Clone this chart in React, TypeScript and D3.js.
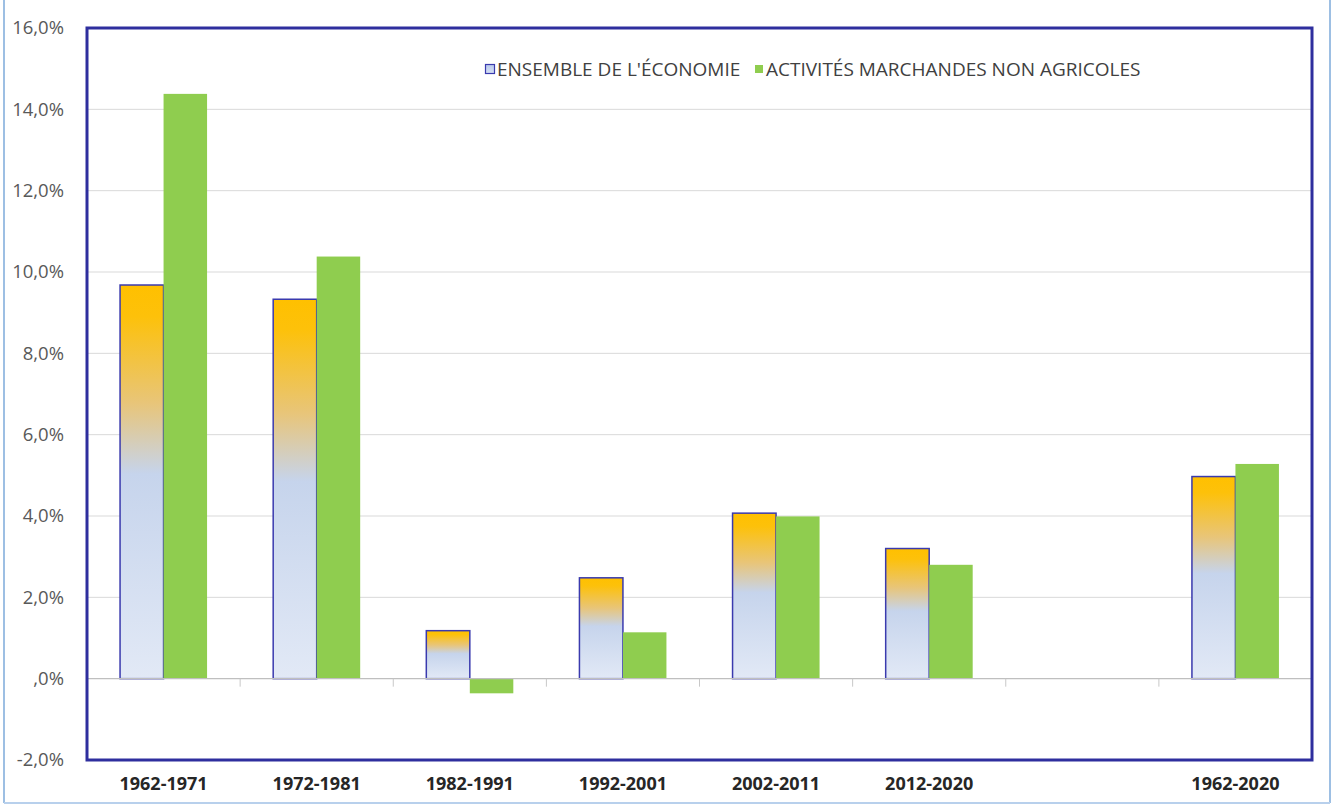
import React from "react";
import * as d3 from "d3";

const categories = ["1962-1971", "1972-1981", "1982-1991", "1992-2001", "2002-2011", "2012-2020", " ", "1962-2020"];
const ensembleEconomie = [9.68, 9.33, 1.18, 2.48, 4.07, 3.2, null, 4.97];
const activitesMarchandes = [14.38, 10.38, -0.36, 1.14, 3.99, 2.8, null, 5.28];
const yTicks = [-2, 0, 2, 4, 6, 8, 10, 12, 14, 16];
const seriesNames = ["ENSEMBLE DE L'ÉCONOMIE", "ACTIVITÉS MARCHANDES NON AGRICOLES"];

const W = 1333;
const H = 807;
const left = 87, right = 1312, top = 28, bottom = 760;

const fmt = (v: number) => (v === 0 ? ",0%" : v.toFixed(1).replace(".", ",") + "%");

export default function App() {
  const x0 = d3.scaleBand<string>().domain(categories).range([left, right]).padding(0);
  const x1 = d3.scaleBand<string>().domain(["eco", "mkt"]).range([0, x0.bandwidth()]).paddingInner(0).paddingOuter(0.76);
  const y = d3.scaleLinear().domain([-2, 16]).range([bottom, top]);
  const font = "'Open Sans', 'DejaVu Sans', sans-serif";

  return (
    <svg width={W} height={H} style={{ position: "absolute", left: 0, top: 0, background: "#fff" }}>
      <defs>
        <linearGradient id="ecoGrad" x1="0" y1="0" x2="0" y2="1">
          <stop offset="0" stopColor="#FFC000" />
          <stop offset="0.08" stopColor="#FDC10A" />
          <stop offset="0.3" stopColor="#E8C579" />
          <stop offset="0.48" stopColor="#C6D4EC" />
          <stop offset="1" stopColor="#E2E9F6" />
        </linearGradient>
        <linearGradient id="legGrad" x1="0" y1="0" x2="0" y2="1">
          <stop offset="0" stopColor="#B9C9EC" />
          <stop offset="1" stopColor="#D6E0F4" />
        </linearGradient>
      </defs>
      <rect x={0} y={0} width={W} height={H} fill="#fff" />
      {/* outer chart border */}
      <line x1={4} x2={4} y1={0} y2={803} stroke="#9DBFE3" strokeWidth={2} />
      <line x1={1330} x2={1330} y1={0} y2={803} stroke="#9DBFE3" strokeWidth={2} />
      <line x1={4} x2={1330} y1={803} y2={803} stroke="#B8D0EC" strokeWidth={2} />

      {/* gridlines */}
      {yTicks.filter((t) => t !== 0 && t !== -2 && t !== 16).map((t) => (
        <line key={t} x1={left} x2={right} y1={y(t)} y2={y(t)} stroke="#D9D9D9" strokeWidth={1} />
      ))}

      {/* y tick labels */}
      {yTicks.map((t) => (
        <text key={t} x={64} y={y(t)} dy="0.35em" textAnchor="end" fontFamily={font} fontSize={18.5} fill="#595959">
          {fmt(t)}
        </text>
      ))}

      {/* bars */}
      {categories.map((c, i) => {
        const e = ensembleEconomie[i];
        const m = activitesMarchandes[i];
        const bx = x0(c)!;
        return (
          <g key={c}>
            {e !== null && (
              <rect
                x={bx + x1("eco")!}
                y={y(Math.max(0, e))}
                width={x1.bandwidth()}
                height={Math.abs(y(e) - y(0))}
                fill="url(#ecoGrad)"
                stroke="#3A3AAE"
                strokeWidth={1.5}
              />
            )}
            {m !== null && (
              <rect
                x={bx + x1("mkt")!}
                y={y(Math.max(0, m))}
                width={x1.bandwidth()}
                height={Math.abs(y(m) - y(0))}
                fill="#8FCD4F"
              />
            )}
          </g>
        );
      })}

      {/* zero line & ticks */}
      <line x1={left} x2={right} y1={y(0)} y2={y(0)} stroke="#BFBFBF" strokeWidth={1.2} />
      {categories.slice(1).map((c) => (
        <line key={c} x1={x0(c)!} x2={x0(c)!} y1={y(0)} y2={y(0) + 8} stroke="#C8C8C8" strokeWidth={1} />
      ))}

      {/* x labels */}
      {categories.map((c) => (
        <text key={c} x={x0(c)! + x0.bandwidth() / 2} y={784} dy="0.35em" textAnchor="middle" fontFamily={font} fontWeight={700} fontSize={18} fill="#262626">
          {c.trim()}
        </text>
      ))}

      {/* plot frame */}
      <rect x={left} y={top} width={right - left} height={bottom - top} fill="none" stroke="#2E2E9E" strokeWidth={3} />

      {/* legend */}
      <rect x={485.5} y={64.5} width={9} height={9} fill="url(#legGrad)" stroke="#3A3AAE" strokeWidth={1.2} />
      <text x={497} y={69} dy="0.35em" fontFamily={font} fontSize={19} fill="#404040">{seriesNames[0]}</text>
      <rect x={755} y={65} width={8} height={8} fill="#8FCD4F" />
      <text x={766} y={69} dy="0.35em" fontFamily={font} fontSize={19} fill="#404040">{seriesNames[1]}</text>
    </svg>
  );
}
